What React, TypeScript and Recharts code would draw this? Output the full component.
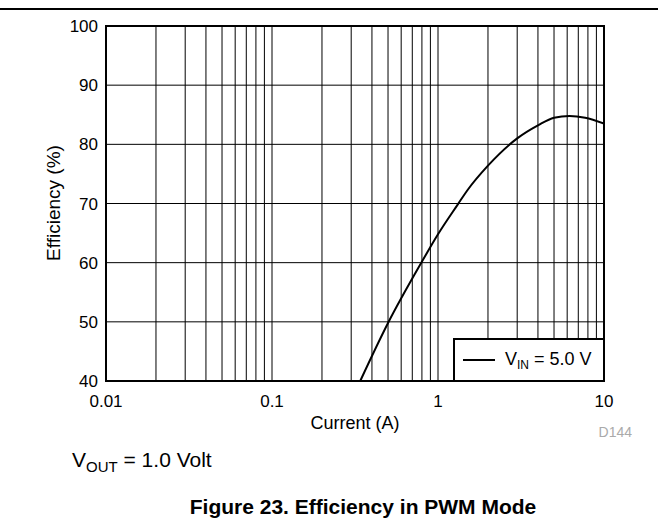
import React from 'react'
import {
  LineChart,
  Line,
  XAxis,
  YAxis,
  CartesianGrid,
  ReferenceLine,
  ReferenceArea,
} from 'recharts'

// load current (A) and efficiency (%)
const currents = [0.34, 0.5, 0.79, 1.0, 1.32, 1.5, 2.0, 3.0, 4.0, 5.0, 6.2, 7.7, 10]
const efficiency = [40, 49.8, 59.9, 64.8, 69.9, 72.2, 76.4, 81.0, 83.2, 84.5, 84.8, 84.5, 83.5]

const xTicks = [0.01, 0.1, 1, 10]
const yTicks = [40, 50, 60, 70, 80, 90, 100]
// minor log grid lines between decades
const xGrid = [
  0.02, 0.03, 0.04, 0.05, 0.06, 0.07, 0.08, 0.09, 0.1,
  0.2, 0.3, 0.4, 0.5, 0.6, 0.7, 0.8, 0.9, 1,
  2, 3, 4, 5, 6, 7, 8, 9,
]

const data = currents.map((c, i) => ({ current: c, eff: efficiency[i] }))

const font = '"Liberation Sans", Arial, sans-serif'

export default function App() {
  return (
    <div
      style={{
        position: 'absolute',
        left: 0,
        top: 0,
        width: 658,
        height: 527,
        background: '#fff',
        fontFamily: font,
        color: '#000',
      }}
    >
      <div style={{ position: 'absolute', left: 0, top: 8, width: 658, height: 2, background: '#000' }} />

      <LineChart
        width={658}
        height={527}
        data={data}
        margin={{ top: 26, right: 54, bottom: 116, left: 46 }}
        style={{ position: 'absolute', left: 0, top: 0 }}
      >
        <CartesianGrid vertical={false} stroke="#000" strokeWidth={1} />
        {xGrid.map((v) => (
          <ReferenceLine key={v} x={v} stroke="#000" strokeWidth={1} />
        ))}
        <XAxis
          dataKey="current"
          type="number"
          scale="log"
          domain={[0.01, 10]}
          ticks={xTicks}
          allowDataOverflow
          axisLine={false}
          tickLine={false}
          tickMargin={8}
          height={30}
          tick={{ fontSize: 17, fill: '#000', fontFamily: font }}
        />
        <YAxis
          type="number"
          domain={[40, 100]}
          ticks={yTicks}
          axisLine={false}
          tickLine={false}
          width={60}
          tick={{ fontSize: 17, fill: '#000', fontFamily: font }}
        />
        <ReferenceArea x1={0.01} x2={10} y1={40} y2={100} fill="none" stroke="#000" strokeWidth={2} />
        <Line
          dataKey="eff"
          type="monotone"
          stroke="#000"
          strokeWidth={2}
          dot={false}
          isAnimationActive={false}
        />
      </LineChart>

      {/* legend box */}
      <div
        style={{
          position: 'absolute',
          left: 453,
          top: 338,
          width: 152,
          height: 44,
          boxSizing: 'border-box',
          border: '2px solid #000',
          background: '#fff',
          display: 'flex',
          alignItems: 'center',
        }}
      >
        <svg width={42} height={10} style={{ marginLeft: 8 }}>
          <line x1={0} y1={5} x2={32} y2={5} stroke="#000" strokeWidth={2} />
        </svg>
        <span style={{ fontSize: 18, whiteSpace: 'nowrap' }}>
          V<sub style={{ fontSize: 12, verticalAlign: -4 }}>IN</sub> = 5.0 V
        </span>
      </div>

      <div
        style={{
          position: 'absolute',
          left: 54,
          top: 203,
          transform: 'translate(-50%, -50%) rotate(-90deg)',
          fontSize: 19,
          whiteSpace: 'nowrap',
        }}
      >
        Efficiency (%)
      </div>

      <div
        style={{
          position: 'absolute',
          left: 355,
          top: 423,
          transform: 'translate(-50%, -50%)',
          fontSize: 18,
          whiteSpace: 'nowrap',
        }}
      >
        Current (A)
      </div>

      <div
        style={{
          position: 'absolute',
          right: 26,
          top: 432,
          transform: 'translateY(-50%)',
          fontSize: 14,
          color: '#aaa',
        }}
      >
        D144
      </div>

      <div
        style={{
          position: 'absolute',
          left: 72,
          top: 461,
          transform: 'translateY(-50%)',
          fontSize: 21,
          whiteSpace: 'nowrap',
        }}
      >
        V<sub style={{ fontSize: 15, verticalAlign: -5 }}>OUT</sub> = 1.0 Volt
      </div>

      <div
        style={{
          position: 'absolute',
          left: 363,
          top: 507,
          transform: 'translate(-50%, -50%)',
          fontSize: 21,
          fontWeight: 'bold',
          whiteSpace: 'nowrap',
        }}
      >
        Figure 23. Efficiency in PWM Mode
      </div>
    </div>
  )
}
